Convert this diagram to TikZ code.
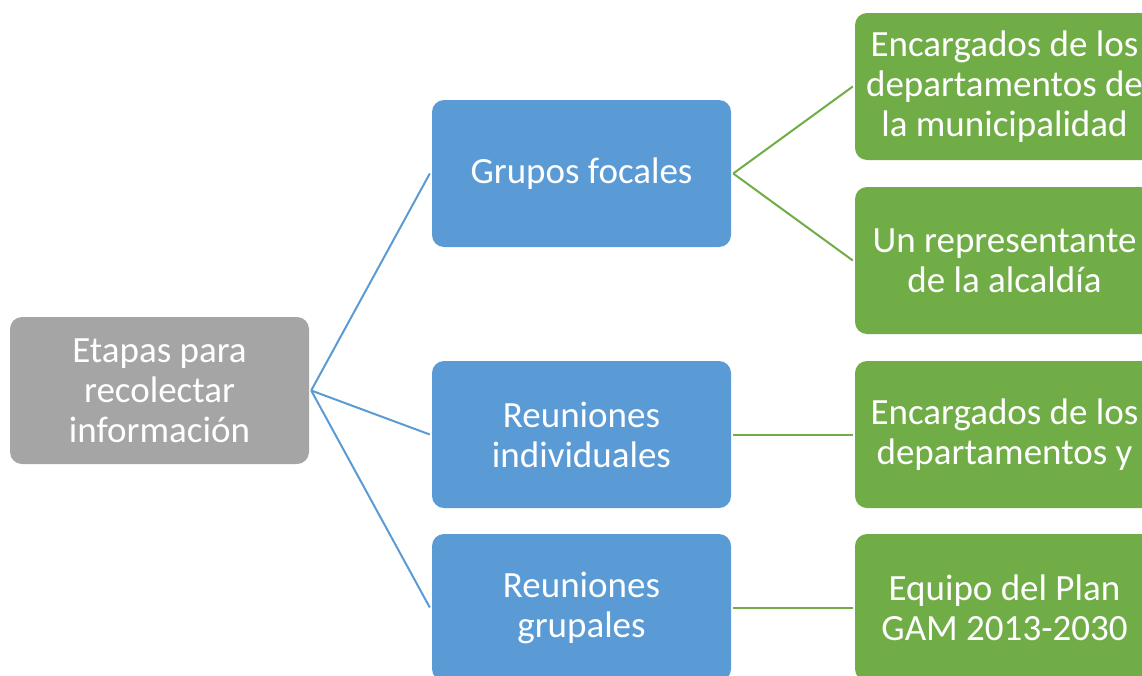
\documentclass[tikz,border=0pt]{standalone}
\usepackage{fontspec}
\setmainfont{Carlito}
\definecolor{cgray}{HTML}{A5A5A5}
\definecolor{cblue}{HTML}{5B9BD5}
\definecolor{cgreen}{HTML}{70AD47}
\tikzset{
  box/.style={rounded corners=12pt, minimum width=299pt, minimum height=147pt, inner sep=0pt,
    text=white, align=center, font=\fontsize{37}{40}\selectfont},
  graybox/.style={box, fill=cgray},
  bluebox/.style={box, fill=cblue},
  greenbox/.style={box, fill=cgreen},
  bline/.style={draw=cblue, line width=2pt},
  gline/.style={draw=cgreen, line width=2pt}
}
\begin{document}
\begin{tikzpicture}[x=1pt,y=-1pt]
\useasboundingbox (0,0) rectangle (1142,675);
\clip (0,0) rectangle (1142,675);
\node[graybox] (g) at (159.5,390.5) {Etapas para\\recolectar\\información};
\node[bluebox] (b1) at (581.5,173.5) {Grupos focales};
\node[bluebox] (b2) at (581.5,434.5) {Reuniones\\individuales};
\node[bluebox] (b3) at (581.5,607.5) {Reuniones\\grupales};
\node[greenbox] (e1) at (1004.5,86.5) {Encargados de los\\departamentos de\\la municipalidad};
\node[greenbox] (e2) at (1004.5,260.5) {Un representante\\de la alcaldía};
\node[greenbox] (e3) at (1004.5,434.5) {Encargados de los\\departamentos y};
\node[greenbox] (e4) at (1004.5,607.5) {Equipo del Plan\\GAM 2013-2030};
\draw[bline] ([xshift=2pt]g.east) -- ([xshift=-2pt]b1.west);
\draw[bline] ([xshift=2pt]g.east) -- ([xshift=-2pt]b2.west);
\draw[bline] ([xshift=2pt]g.east) -- ([xshift=-2pt]b3.west);
\draw[gline] ([xshift=2pt]b1.east) -- ([xshift=-2pt]e1.west);
\draw[gline] ([xshift=2pt]b1.east) -- ([xshift=-2pt]e2.west);
\draw[gline] ([xshift=2pt]b2.east) -- ([xshift=-2pt]e3.west);
\draw[gline] ([xshift=2pt]b3.east) -- ([xshift=-2pt]e4.west);
\end{tikzpicture}
\end{document}
